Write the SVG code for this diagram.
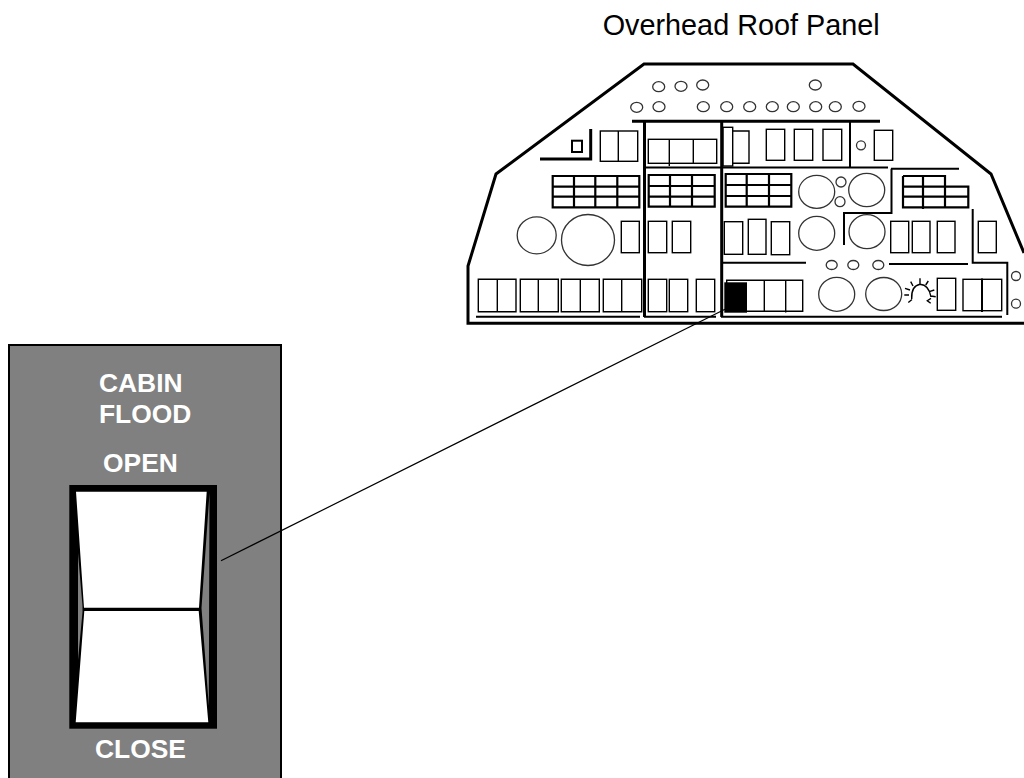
<svg xmlns="http://www.w3.org/2000/svg" width="1024" height="778" viewBox="0 0 1024 778">
<style>
.t{font-family:"Liberation Sans",Arial,sans-serif}
.lb{font-size:26.4px;font-weight:bold;fill:#fff}
.o{fill:none;stroke:#000;stroke-width:2}
.h{fill:none;stroke:#000;stroke-width:3}
.r{fill:none;stroke:#000;stroke-width:1.4}
.g{fill:none;stroke:#000;stroke-width:2.2}
.c{fill:none;stroke:#333;stroke-width:1.3}
</style>
<rect width="1024" height="778" fill="#fff"/>
<text id="title" class="t" x="602.7" y="35" font-size="28.8" fill="#000">Overhead Roof Panel</text>
<g id="roof-panel">
<path class="h" d="M1024 253L991 174L853 64H644L496 174L468 266V323.3H1024"/>
<g id="panel-lines">
<path class="h" d="M632 121.3H880M644.5 121V317M721.7 121V317M540 159H590.7V129"/>
<path class="o" d="M645 167.5H888M850 121V167M891 168.7H959M891.5 168.7V213H844V245M722 262.7H806M889 264H968M972.7 209V262.7H1007.3V315M476 316.7H640M644 316.7H716M721 316.7H1002"/>
<rect x="572" y="140.7" width="10" height="11.3" class="o"/>
</g>
<g id="top-indicators">
<ellipse class="c" cx="658.7" cy="86.7" rx="6" ry="5"/><ellipse class="c" cx="681" cy="86.3" rx="6" ry="5"/><ellipse class="c" cx="702.7" cy="85" rx="6" ry="5"/><ellipse class="c" cx="815.3" cy="85" rx="6" ry="5"/>
<ellipse class="c" cx="636.7" cy="107.3" rx="6" ry="5"/><ellipse class="c" cx="659" cy="106.7" rx="6" ry="5"/><ellipse class="c" cx="703.3" cy="106.7" rx="6" ry="5"/><ellipse class="c" cx="726.7" cy="106.7" rx="6" ry="5"/><ellipse class="c" cx="749.7" cy="106.7" rx="6" ry="5"/><ellipse class="c" cx="772.3" cy="106.7" rx="6" ry="5"/><ellipse class="c" cx="793.3" cy="106.7" rx="6" ry="5"/><ellipse class="c" cx="815.7" cy="106.7" rx="6" ry="5"/><ellipse class="c" cx="835.3" cy="106.7" rx="6" ry="5"/><ellipse class="c" cx="859" cy="106.3" rx="6" ry="5"/>
</g>
<g id="row-1">
<rect class="r" x="600.3" y="131" width="37.4" height="30.3"/><path class="r" d="M618.3 131V161.3"/>
<rect class="r" x="648.3" y="139.3" width="68.4" height="24"/><path class="r" d="M669.3 139.3V166M693.3 139.3V163.3"/>
<rect class="r" x="723" y="127.3" width="9.7" height="38.7"/><path class="r" d="M732.7 131H749V163.3H732.7"/>
<rect class="r" x="766.3" y="129.3" width="18.4" height="31"/><rect class="r" x="794.3" y="129.3" width="18.4" height="31"/><rect class="r" x="823" y="129.3" width="18.7" height="31"/>
<circle class="c" cx="861" cy="145.3" r="4.5"/>
<rect class="r" x="874.3" y="130.3" width="18.4" height="30"/>
</g>
<g id="row-2">
<path class="g" d="M552.7 176H639.3V207.3H552.7ZM574 176V207.3M595.3 176V207.3M617.3 176V207.3M552.7 186.7H639.3M552.7 196.7H639.3"/>
<path class="g" d="M648.7 175H714.7V206.7H648.7ZM670 175V206.7M692 175V206.7M648.7 186H714.7M648.7 196.7H714.7"/>
<path class="g" d="M725.7 174H791.3V206.7H725.7ZM746.7 174V206.7M769 174V206.7M725.7 185H791.3M725.7 196H791.3"/>
<ellipse class="c" cx="816.7" cy="191.8" rx="18" ry="16.5"/><ellipse class="c" cx="866.7" cy="190" rx="18" ry="16.7"/>
<circle class="c" cx="841" cy="182" r="5"/><circle class="c" cx="840" cy="201.7" r="5"/>
<path class="g" d="M903 176H945V186.7M903 186.7H968.3V207.3H903ZM903 176V186.7M903 196.7H968.3M923 176V209M945 186.7V207.3"/>
</g>
<g id="row-3">
<ellipse class="c" cx="536.7" cy="235.3" rx="19.5" ry="18.5"/><ellipse class="c" cx="588" cy="240" rx="26.5" ry="25.5"/>
<rect class="r" x="621.3" y="221.3" width="18" height="31.4"/><rect class="r" x="648.3" y="221.3" width="18.4" height="31.4"/><rect class="r" x="672.3" y="221.3" width="18.4" height="31.4"/>
<rect class="r" x="724.3" y="221.7" width="18.4" height="32.6"/><rect class="r" x="748.3" y="219.3" width="17.7" height="35"/><rect class="r" x="771.3" y="221.7" width="18.4" height="33"/>
<ellipse class="c" cx="816.7" cy="233.3" rx="18" ry="17"/><ellipse class="c" cx="867" cy="231.7" rx="18" ry="17"/>
<rect class="r" x="890.7" y="221.3" width="18" height="31.4"/><rect class="r" x="912.3" y="221.3" width="17.7" height="31.4"/><rect class="r" x="937.3" y="221.3" width="17.7" height="31.4"/><rect class="r" x="978.3" y="221.3" width="18" height="31.4"/>
<ellipse class="c" cx="831.7" cy="265" rx="5.5" ry="4.5"/><ellipse class="c" cx="853.3" cy="265" rx="5.5" ry="4.5"/><ellipse class="c" cx="878.3" cy="265" rx="5.5" ry="4.5"/>
<circle class="c" cx="1016" cy="276" r="4.5"/><circle class="c" cx="1016" cy="303.7" r="4.5"/>
</g>
<g id="row-4">
<path class="r" d="M478.3 279.3H516V311.7H478.3ZM497.3 279.3V312.5M520.3 279.3H558.3V311.7H520.3ZM538.3 279.3V311.7M561.3 279.3H599.3V311.7H561.3ZM580.3 279.3V311.7M603.3 279.3H641.7V311.7H603.3ZM621.7 279.3V311.7"/>
<rect class="r" x="648.3" y="279.3" width="18.4" height="32.4"/><rect class="r" x="669.3" y="279.3" width="18.4" height="32.4"/><rect class="r" x="696.3" y="279.3" width="18.4" height="32.4"/>
<path class="r" d="M726.7 280.3H802.7V311.3H726.7ZM764.3 280.3V311.3M785.7 280.3V312.5"/>
<rect id="selected-switch" x="724.3" y="282.3" width="22.7" height="30.4" fill="#000"/>
<ellipse class="c" cx="836.7" cy="294.3" rx="18" ry="17"/><ellipse class="c" cx="883.7" cy="294" rx="18" ry="16.5"/>
<path class="r" d="M911.7 299Q911 286 920 284.3Q929 285 931 297M920 284V278.3M913 286L910.7 281.7M925.7 285L928.3 281M910 290L905 288.3M929.3 291.7L934.3 290M909 295L904.3 295M931 296L935.7 296.7M908.3 302.5L912 299.5M931 298.3L927.3 300.7L930.7 303.3"/>
<rect class="r" x="937.3" y="278.3" width="18.4" height="32"/>
<rect class="r" x="963" y="279.3" width="38.7" height="31.4"/><path class="o" d="M982 278.5V312"/>
</g>
</g>
<g id="cabin-flood-switch">
<rect x="9" y="345" width="272" height="440" fill="#808080" stroke="#000" stroke-width="2"/>
<rect x="69.3" y="485" width="147.7" height="243.7" fill="#000"/>
<path fill="#808080" d="M78 553L82.5 606V612L78 660ZM209.5 493L201.5 608L208.8 706Z"/>
<path fill="#fff" d="M76 491.7H206.7L199 607.7H84ZM84.3 611H198.7L208.3 722.3H75.7Z"/>
<path d="M84 609.3H199" stroke="#000" stroke-width="2"/>
<text class="t lb" x="99" y="392.3">CABIN</text>
<text class="t lb" x="99" y="423.3">FLOOD</text>
<text class="t lb" x="103" y="471.7">OPEN</text>
<text class="t lb" x="95" y="758">CLOSE</text>
</g>
<g id="connectors"><path d="M725 309.3L221 560.7" fill="none" stroke="#000" stroke-width="1.2"/></g>
</svg>
